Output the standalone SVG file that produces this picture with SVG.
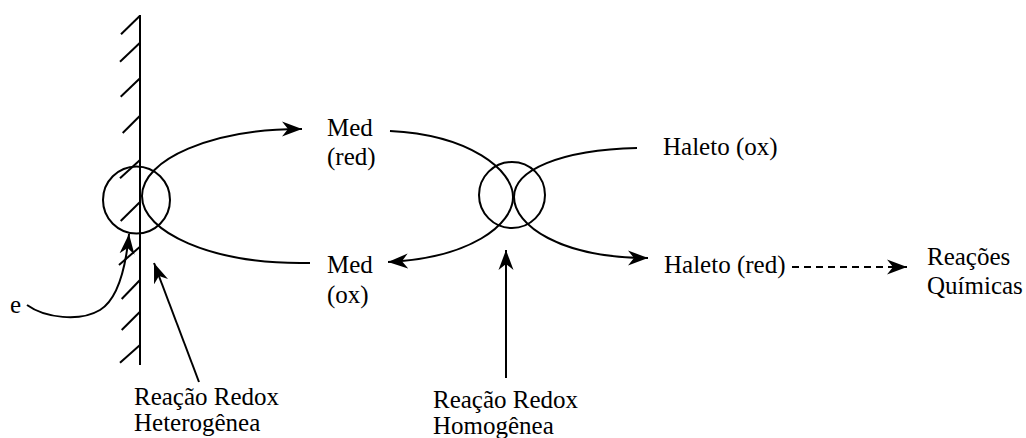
<svg xmlns="http://www.w3.org/2000/svg" width="1026" height="438" viewBox="0 0 1026 438">
  <style>
    .ln { fill: none; stroke: #000; stroke-width: 2; }
    .hatch { stroke: #000; stroke-width: 2; }
    .lbl { font-family: "Liberation Serif", "DejaVu Serif", serif; font-size: 25px; fill: #000; }
    .arr { marker-end: url(#head); }
  </style>
  <defs>
    <marker id="head" viewBox="-20 -8 20 16" refX="0" refY="0" markerWidth="20" markerHeight="16" markerUnits="userSpaceOnUse" orient="auto">
      <path d="M0,0 L-20,-7.5 L-14,0 L-20,7.5 Z" fill="#000"/>
    </marker>
  </defs>
  <rect width="1026" height="438" fill="#fff"/>

  <!-- electrode wall with hatching -->
  <g id="electrode">
    <line class="hatch" x1="140" y1="15" x2="140" y2="365"/>
    <line class="hatch" x1="140" y1="15.7" x2="121" y2="34.2"/>
    <line class="hatch" x1="140" y1="42.7" x2="120" y2="61.7"/>
    <line class="hatch" x1="140" y1="78.3" x2="120.7" y2="96.7"/>
    <line class="hatch" x1="140" y1="115.7" x2="122.7" y2="133"/>
    <line class="hatch" x1="140" y1="160" x2="120" y2="178.3"/>
    <line class="hatch" x1="140" y1="202" x2="120.7" y2="221"/>
    <line class="hatch" x1="140" y1="246.7" x2="119" y2="265"/>
    <line class="hatch" x1="140" y1="280" x2="121.7" y2="299"/>
    <line class="hatch" x1="140" y1="311.7" x2="121.7" y2="330"/>
    <line class="hatch" x1="140" y1="345" x2="120" y2="362.7"/>
  </g>

  <!-- reaction sites -->
  <g id="site-heterogeneous">
    <circle class="ln" cx="136.5" cy="200" r="33.5"/>
  </g>
  <g id="site-homogeneous">
    <circle class="ln" cx="512" cy="195" r="33"/>
  </g>

  <!-- connectors -->
  <g id="connectors">
    <!-- mediator loop at the electrode -->
    <path class="ln arr" d="M310,263 L300,263 C212.7,263 142,233 142,196 C142,159 212.7,129 300,129 L302,129"/>
    <!-- mediator through homogeneous step -->
    <path class="ln arr" d="M390,131 C470,135 513,170 513,197 C513,225 470,258 388,262"/>
    <!-- halide through homogeneous step -->
    <path class="ln arr" d="M637,148 C560,150 514,170 514,197 C514,225 560,258 648,258"/>
    <!-- follow-up chemistry -->
    <path class="ln arr" d="M792,267 L907,267" stroke-dasharray="7,5"/>
    <!-- electron supply -->
    <path class="ln arr" d="M27,305 C45,318 80,322 100,310 C118,299 126,265 129,234"/>
    <!-- label pointers -->
    <path class="ln arr" d="M199,382 L154,263"/>
    <path class="ln arr" d="M506,378 L506,250"/>
  </g>

  <!-- labels -->
  <g id="label-e"><text class="lbl" x="10" y="313">e</text></g>
  <g id="label-med-red">
    <text class="lbl" x="327" y="136">Med</text>
    <text class="lbl" x="327" y="165">(red)</text>
  </g>
  <g id="label-med-ox">
    <text class="lbl" x="327" y="273">Med</text>
    <text class="lbl" x="327" y="302.5">(ox)</text>
  </g>
  <g id="label-haleto-ox"><text class="lbl" x="663" y="155">Haleto (ox)</text></g>
  <g id="label-haleto-red"><text class="lbl" x="664" y="273">Haleto (red)</text></g>
  <g id="label-reacoes">
    <text class="lbl" x="927" y="265">Reações</text>
    <text class="lbl" x="927" y="294">Químicas</text>
  </g>
  <g id="label-heterogenea">
    <text class="lbl" x="134" y="405">Reação Redox</text>
    <text class="lbl" x="134" y="431">Heterogênea</text>
  </g>
  <g id="label-homogenea">
    <text class="lbl" x="433" y="408">Reação Redox</text>
    <text class="lbl" x="433" y="434">Homogênea</text>
  </g>
</svg>
